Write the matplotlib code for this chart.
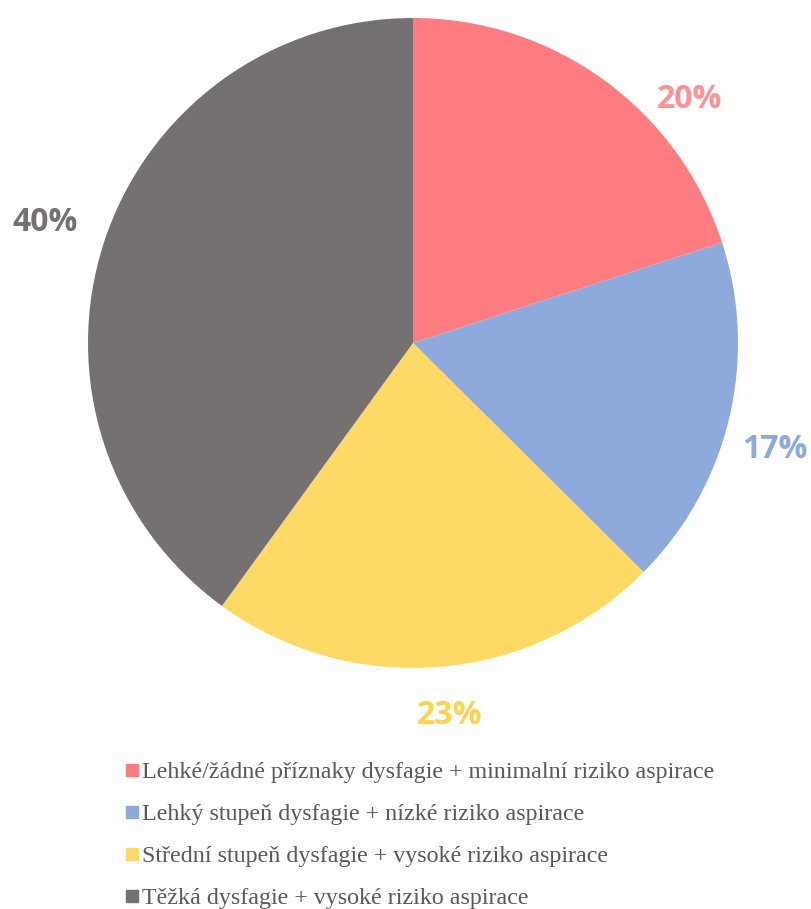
import matplotlib
matplotlib.use("Agg")
import matplotlib.pyplot as plt
from matplotlib.lines import Line2D

categories = [
    "Lehké/žádné příznaky dysfagie + minimalní riziko aspirace",
    "Lehký stupeň dysfagie + nízké riziko aspirace",
    "Střední stupeň dysfagie + vysoké riziko aspirace",
    "Těžká dysfagie + vysoké riziko aspirace",
]
values = [20.0, 17.45, 22.55, 40.0]
pct_labels = ["20%", "17%", "23%", "40%"]
colors = ["#FF7C80", "#8EA9DB", "#FFD966", "#767171"]
label_colors = ["#FF9195", "#8EA9DB", "#FFD34F", "#767171"]

W, H = 811, 909
fig = plt.figure(figsize=(W / 100, H / 100), dpi=100)
cx, cy, r = 413, 343, 325
ax = fig.add_axes([(cx - r) / W, (H - cy - r) / H, 2 * r / W, 2 * r / H])
ax.pie(values, colors=colors, startangle=90, counterclock=False, radius=1,
       wedgeprops=dict(linewidth=0))
ax.set_xlim(-1, 1)
ax.set_ylim(-1, 1)
ax.set_aspect("equal")
ax.axis("off")

label_pos = [(0.852, 0.748), (1.114, -0.329), (0.114, -1.145), (-1.132, 0.372)]
for (x, y), t, c in zip(label_pos, pct_labels, label_colors):
    ax.text(x, y, t, ha="center", va="center", fontsize=23, fontweight="bold",
            color=c, family="Open Sans", clip_on=False)

handles = [Line2D([0], [0], marker="s", linestyle="none", markersize=8,
                  markerfacecolor=c, markeredgecolor=c) for c in colors]
leg = fig.legend(handles, categories, loc="upper left",
                 bbox_to_anchor=(115 / W, 1 - 752 / H), frameon=False,
                 prop=dict(family="Liberation Serif", size=17.3),
                 handlelength=0.6, handletextpad=0.12, labelspacing=0.84,
                 borderaxespad=0)
for t in leg.get_texts():
    t.set_color("#595959")

fig.savefig("out.png", dpi=100)
